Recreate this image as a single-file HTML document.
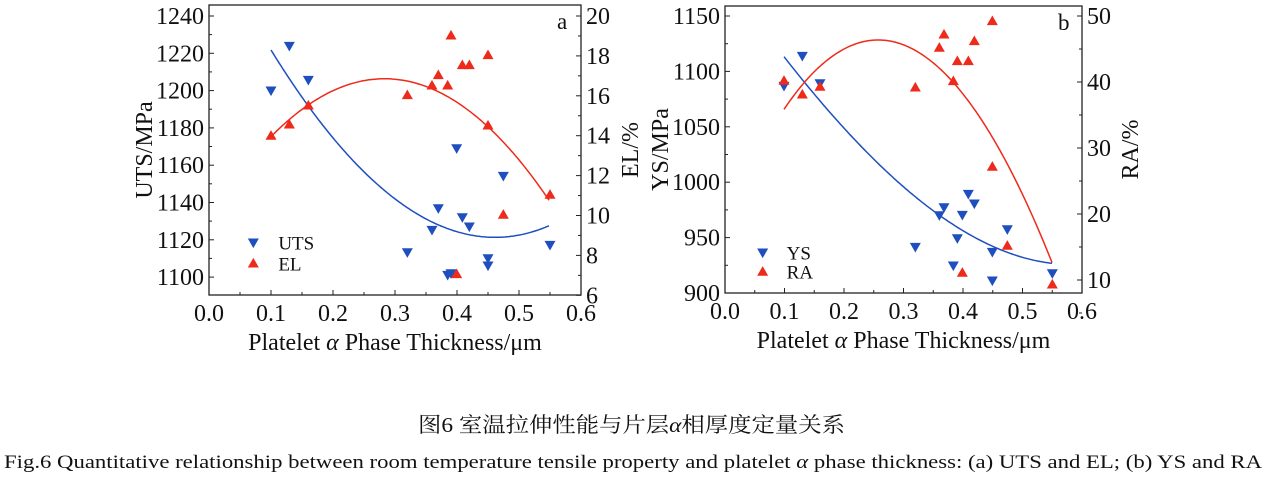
<!DOCTYPE html>
<html><head><meta charset="utf-8"><style>
body{margin:0;background:#fff;width:1266px;height:478px;overflow:hidden}
svg{display:block}
text{font-family:"Liberation Serif","Noto Serif CJK SC",serif;fill:#111}
</style></head><body>
<svg id="s" width="1266" height="478" xmlns="http://www.w3.org/2000/svg">
<text x="418" y="432" font-size="21" textLength="427" lengthAdjust="spacingAndGlyphs" font-family="Liberation Serif, Noto Serif CJK SC, serif">图6  室温拉伸性能与片层<tspan font-style="italic">α</tspan>相厚度定量关系</text>
<text x="4" y="468" font-size="19" textLength="1258" lengthAdjust="spacingAndGlyphs">Fig.6  Quantitative relationship between room temperature tensile property and platelet <tspan font-style="italic">α</tspan> phase thickness: (a) UTS and EL; (b) YS and RA</text>
</svg>
<script>
const s=document.getElementById('s');let h='';
function lag(P,x){let y=0;for(let i=0;i<P.length;i++){let t=P[i][1];for(let j=0;j<P.length;j++)if(j!=i)t*=(x-P[j][0])/(P[i][0]-P[j][0]);y+=t;}return y;}
function curve(P,x0,x1,c){let d='';for(let x=x0;x<=x1+0.01;x+=2){d+=(d?'L':'M')+x.toFixed(1)+','+lag(P,x).toFixed(1);}h+=`<path d="${d}" fill="none" stroke="${c}" stroke-width="1.5"/>`;}
function tri(x,y,up,c){const r=5.5;h+=up?`<polygon points="${x},${y-r} ${x-r},${y+r*0.75} ${x+r},${y+r*0.75}" fill="${c}"/>`:`<polygon points="${x},${y+r} ${x-r},${y-r*0.75} ${x+r},${y-r*0.75}" fill="${c}"/>`;}
const B='#1f4fbf',R='#ee2a1a';
function panel(o){
 const {L,Rr,T,Bt,ox}=o;
 h+=`<rect x="${L}" y="${T}" width="${Rr-L}" height="${Bt-T}" fill="none" stroke="#222" stroke-width="1.3"/>`;
 for(let i=0;i<=12;i++){const x=L+(Rr-L)*i/12;const len=i%2?3:5;h+=`<line x1="${x}" y1="${Bt}" x2="${x}" y2="${Bt-len}" stroke="#222"/>`;if(i%2==0)h+=`<text x="${x}" y="${Bt+26}" font-size="24" text-anchor="middle">${(i/20).toFixed(1)}</text>`;}
 o.ly.forEach(([v,y])=>{h+=`<line x1="${L}" y1="${y}" x2="${L+5}" y2="${y}" stroke="#222"/><text x="${L-5}" y="${y+8}" font-size="24" text-anchor="end">${v}</text>`;});
 o.lyMinor.forEach(y=>h+=`<line x1="${L}" y1="${y}" x2="${L+3}" y2="${y}" stroke="#222"/>`);
 o.ry.forEach(([v,y])=>{h+=`<line x1="${Rr}" y1="${y}" x2="${Rr-5}" y2="${y}" stroke="#222"/><text x="${Rr+5}" y="${y+8}" font-size="24">${v}</text>`;});
 o.ryMinor.forEach(y=>h+=`<line x1="${Rr}" y1="${y}" x2="${Rr-3}" y2="${y}" stroke="#222"/>`);
 h+=`<text x="${(L+Rr)/2}" y="${Bt+55}" font-size="24" text-anchor="middle">Platelet <tspan font-style="italic">α</tspan> Phase Thickness/μm</text>`;
 h+=`<text transform="translate(${o.ylx},${(T+Bt)/2}) rotate(-90)" font-size="24" text-anchor="middle">${o.yl}</text>`;
 h+=`<text transform="translate(${o.rlx},${(T+Bt)/2}) rotate(-90)" font-size="24" text-anchor="middle">${o.rl}</text>`;
 h+=`<text x="${Rr-24}" y="${T+24}" font-size="23">${o.tag}</text>`;
 curve(o.bc.map(p=>[ox+p[0]/3,p[1]/3]),ox+o.bc[0][0]/3,ox+o.bc[3][0]/3,B);
 curve(o.rc.map(p=>[ox+p[0]/3,p[1]/3]),ox+o.rc[0][0]/3,ox+o.rc[3][0]/3,R);
 o.bp.forEach(p=>tri(ox+p[0]/3,p[1]/3,false,B));
 o.rp.forEach(p=>tri(ox+p[0]/3,p[1]/3,true,R));
 tri(ox+o.leg[0]/3,o.leg[1]/3,false,B);tri(ox+o.leg[0]/3,o.leg[2]/3,true,R);
 h+=`<text x="${ox+o.leg[3]/3}" y="${o.leg[1]/3+7}" font-size="19">${o.ln[0]}</text><text x="${ox+o.leg[3]/3}" y="${o.leg[2]/3+7}" font-size="19">${o.ln[1]}</text>`;
}
function arr(n,f){const r=[];for(let i=0;i<n;i++)r.push(f(i));return r;}
panel({L:209,Rr:581,T:5,Bt:295,ox:120,
 ly:arr(8,i=>[1240-20*i,16+i*37.3]),lyMinor:arr(8,i=>16+i*37.3+18.6).filter(y=>y<295),
 ry:arr(8,i=>[20-2*i,16+i*39.9]),ryMinor:arr(7,i=>16+i*39.9+19.95),
 yl:'UTS/MPa',rl:'EL/%',ylx:152,rlx:638,tag:'a',
 bc:[[453,150],[780,560],[1130,712],[1290,676]],
 rc:[[453,410],[560,318],[1000,300],[1290,605]],
 bp:[[453,272],[508,138],[565,240],[862,757],[936,690],[955,625],[983,825],[993,820],[1010,445],[1027,652],[1048,680],[1104,775],[1104,797],[1150,528],[1290,735]],
 rp:[[453,407],[508,373],[565,316],[862,285],[936,256],[955,225],[983,256],[993,106],[1010,822],[1027,195],[1048,195],[1104,165],[1104,376],[1150,644],[1290,584]],
 leg:[400,728,790,475],ln:['UTS','EL']});
panel({L:725,Rr:1082,T:6,Bt:293,ox:640,
 ly:arr(6,i=>[1150-50*i,16+i*55.4]),lyMinor:arr(5,i=>16+i*55.4+27.7),
 ry:arr(5,i=>[50-10*i,16+i*66]),ryMinor:arr(5,i=>16+i*66+33),
 yl:'YS/MPa',rl:'RA/%',ylx:668,rlx:1138,tag:'b',
 bc:[[432,170],[790,560],[1000,710],[1237,790]],
 rc:[[432,328],[710,120],[1050,400],[1237,790]],
 bp:[[432,258],[487,168],[540,250],[826,741],[898,646],[912,622],[940,797],[952,715],[967,645],[985,582],[1003,611],[1057,756],[1057,842],[1102,688],[1237,820]],
 rp:[[432,242],[487,283],[540,260],[826,262],[898,143],[912,103],[940,243],[952,183],[967,818],[985,183],[1003,123],[1057,500],[1057,63],[1102,737],[1237,853]],
 leg:[368,758,815,440],ln:['YS','RA']});
s.insertAdjacentHTML('beforeend',h);
</script>
</body></html>
